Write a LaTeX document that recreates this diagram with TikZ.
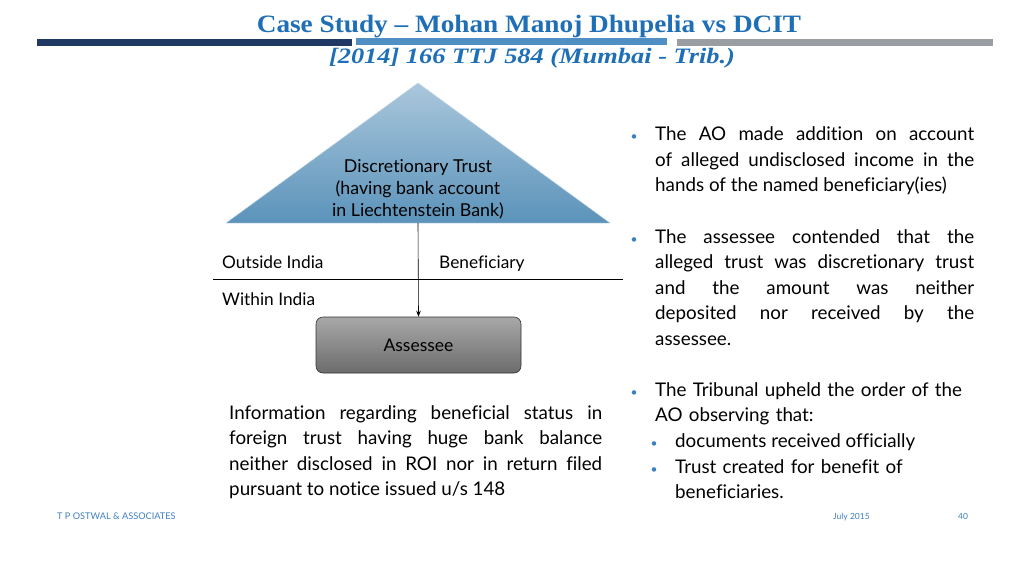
\documentclass[tikz,border=0pt]{standalone}
\usepackage{fontspec}
\setmainfont{Lato}[Ligatures=CommonOff]
\newfontfamily\titlefont{Liberation Serif}
\usetikzlibrary{arrows.meta}
\definecolor{titleblue}{HTML}{1F6FB6}
\definecolor{navybar}{HTML}{1F3864}
\definecolor{midbar}{HTML}{4F8FC4}
\definecolor{graybar}{HTML}{9A9EA3}
\definecolor{bulletblue}{HTML}{3A80C0}
\definecolor{footblue}{HTML}{3F80C0}
\definecolor{tritop}{HTML}{AAC7DC}
\definecolor{tribot}{HTML}{5B93BA}
\definecolor{boxtop}{HTML}{A8A8A8}
\definecolor{boxbot}{HTML}{6C6C6C}
\tikzset{
  body/.style={font=\fontsize{18.8}{25.5}\selectfont, inner sep=0pt, text=black},
  label/.style={font=\fontsize{17.3}{19}\selectfont, inner sep=0pt, anchor=base west},
  bul/.style={font=\fontsize{12}{14}\selectfont, text=bulletblue, inner sep=0pt, anchor=base},
  foot/.style={font=\fontsize{8.5}{10}\selectfont, text=footblue, inner sep=0pt, anchor=base west},
}
\begin{document}
\begin{tikzpicture}[x=1pt,y=-1pt]
\useasboundingbox (0,0) rectangle (1024,576);
\fill[white] (0,0) rectangle (1024,576);
% bars
\fill[navybar] (37,39) rectangle (352,46);
\fill[midbar] (356,37.5) rectangle (667,44.5);
\fill[graybar] (677,38.5) rectangle (993,46);
% title
\node[anchor=base, inner sep=0, text=titleblue, font=\titlefont\bfseries\fontsize{25}{28}\selectfont] (title) at (529,32) {\scalebox{1.09}[1]{Case Study – Mohan Manoj Dhupelia vs DCIT}};
\node[anchor=base, inner sep=0, text=titleblue, font=\titlefont\bfseries\itshape\fontsize{22}{26}\selectfont] (subtitle) at (532,63) {\scalebox{1.2}[1]{[2014] 166 TTJ 584 (Mumbai - Trib.)}};
% triangle
\shade[top color=tritop, bottom color=tribot, draw=tritop!70!white, line width=0.4pt] (418,83) -- (610,223) -- (226,223) -- cycle;
\node[align=center, inner sep=0, font=\fontsize{17.8}{22}\selectfont, anchor=base] (trust) at (418,216.7) {Discretionary Trust\\(having bank account\\in Liechtenstein Bank)};
\coordinate (trustbase) at (418,223);
% divider
\coordinate (divL) at (213,279);
\coordinate (divR) at (623,279);
\draw[line width=0.8pt] (divL) -- (divR);
\node[label] (outside) at (222,268) {Outside India};
\node[label] (benef) at (439,268) {Beneficiary};
\node[label] (within) at (222,305) {Within India};
% assessee box
\node[minimum width=205pt, minimum height=56pt, rounded corners=7pt, top color=boxtop, bottom color=boxbot, draw=black!80, line width=0.6pt, font=\fontsize{17.5}{20}\selectfont] (assessee) at (418.5,345) {Assessee};
\draw[-{Stealth[length=6pt,width=4.5pt]}, line width=0.6pt] (trustbase) -- (assessee.north);
% left info
\node[body, anchor=north west, text width=373pt, align=justify] (info) at (229,401) {\strut Information regarding beneficial status in\linebreak foreign trust having huge bank balance\linebreak neither disclosed in ROI nor in return filed\linebreak pursuant to notice issued u/s 148};
% right column
\node[bul] (b1) at (634,140.7) {•};
\node[body, anchor=north west, text width=319pt, align=justify] (p1) at (655,122.7) {\strut The AO made addition on account\linebreak of alleged undisclosed income in the\linebreak hands of the named beneficiary(ies)};
\node[bul] (b2) at (634,243) {•};
\node[body, anchor=north west, text width=319pt, align=justify] (p2) at (655,225) {\strut The assessee contended that the\linebreak alleged trust was discretionary trust\linebreak and the amount was neither\linebreak deposited nor received by the\linebreak assessee.};
\node[bul] (b3) at (634,396) {•};
\node[body, anchor=north west, text width=330pt, align=left] (p3) at (655,378) {\strut The Tribunal upheld the order of the\\AO observing that:};
\node[bul] (b4) at (654,447) {•};
\node[body, anchor=base west] (s1) at (675,447) {documents received officially};
\node[bul] (b5) at (654,473) {•};
\node[body, anchor=north west, text width=300pt, align=left] (s2) at (675,455) {\strut Trust created for benefit of\\beneficiaries.};
% footer
\node[foot, font=\fontsize{9.2}{10}\selectfont] (firm) at (57,519) {T P OSTWAL \& ASSOCIATES};
\node[foot] (date) at (833,519) {July 2015};
\node[foot] (page) at (958,519) {40};
\end{tikzpicture}
\end{document}
